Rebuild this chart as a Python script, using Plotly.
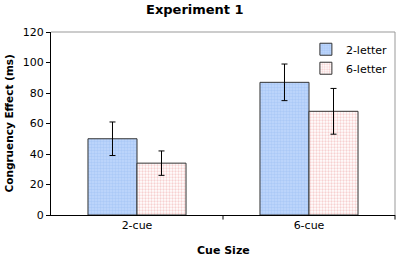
import plotly.graph_objects as go

categories = ["2-cue", "6-cue"]
series_names = ["2-letter", "6-letter"]
vals_2letter = [50, 87]
err_2letter = [11, 12]
vals_6letter = [34, 68]
err_6letter = [8, 15]
y_ticks = [0, 20, 40, 60, 80, 100, 120]

font_family = "DejaVu Sans, Verdana, sans-serif"

fig = go.Figure()
fig.add_trace(go.Bar(
    x=categories, y=vals_2letter, name=series_names[0],
    error_y=dict(type="data", array=err_2letter, color="black", thickness=1, width=3),
    marker=dict(color="#a9c9f7", line=dict(color="#333333", width=1),
                pattern=dict(shape=".", fgcolor="#96bbf4", bgcolor="#c0d7fb", size=3, solidity=0.5)),
))
fig.add_trace(go.Bar(
    x=categories, y=vals_6letter, name=series_names[1],
    error_y=dict(type="data", array=err_6letter, color="black", thickness=1, width=3),
    marker=dict(color="#ffffff", line=dict(color="#333333", width=1),
                pattern=dict(shape=".", fgcolor="#eea3a3", bgcolor="#ffffff", size=3, solidity=0.45)),
))

fig.update_layout(
    width=397, height=257,
    margin=dict(l=51, r=2, t=32, b=42, autoexpand=False),
    paper_bgcolor="white", plot_bgcolor="white",
    barmode="group", bargap=0.43, bargroupgap=0,
    font=dict(family=font_family, size=11, color="black"),
    legend=dict(x=0.741, y=0.985, xanchor="left", yanchor="top", bgcolor="rgba(0,0,0,0)",
                font=dict(size=11), itemwidth=30, tracegroupgap=2),
    xaxis=dict(showline=True, linecolor="black", linewidth=1, ticks="", automargin=False,
               showgrid=False),
    yaxis=dict(range=[0, 120], tickvals=y_ticks, showline=True, linecolor="black", linewidth=1,
               ticks="outside", ticklen=4, tickcolor="black", showgrid=False, zeroline=False,
               automargin=False),
    showlegend=True,
)

# titles as annotations
fig.add_annotation(text="<b>Experiment 1</b>", xref="paper", yref="paper", x=0.42, y=1,
                   yshift=23, showarrow=False, font=dict(size=13), xanchor="center", yanchor="middle")
fig.add_annotation(text="<b>Cue Size</b>", xref="paper", yref="paper", x=0.5, y=0,
                   yshift=-35, showarrow=False, font=dict(size=11), xanchor="center", yanchor="middle")
fig.add_annotation(text="<b>Congruency Effect (ms)</b>", xref="paper", yref="paper", x=0, y=0.5,
                   xshift=-43, showarrow=False, textangle=-90, font=dict(size=10.5),
                   xanchor="center", yanchor="middle")

# top and right plot border (light gray)
fig.add_shape(type="line", xref="paper", yref="paper", x0=0, x1=1, y0=1, y1=1,
              line=dict(color="#999999", width=1))
fig.add_shape(type="line", xref="paper", yref="paper", x0=1, x1=1, y0=0, y1=1,
              line=dict(color="#999999", width=1))
# category boundary ticks on x axis
for xp in [0.5, 1.0]:
    fig.add_shape(type="line", xref="paper", yref="paper", x0=xp, x1=xp, y0=0, y1=-0.025,
                  line=dict(color="black", width=1))

fig.write_html("out.html", config={"displayModeBar": False},
               post_script="document.body.style.margin='0';")
